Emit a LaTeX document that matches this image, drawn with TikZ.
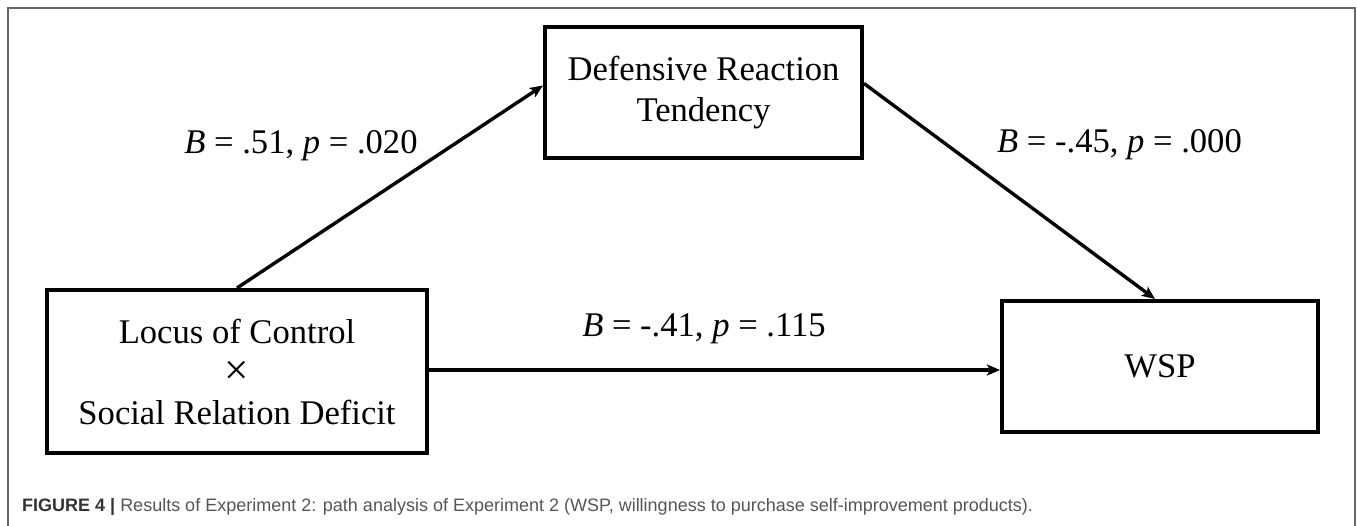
\documentclass[tikz,border=0pt]{standalone}
\usepackage{graphicx}
\usepackage{fontspec}
\setmainfont{Liberation Serif}
\newfontfamily\capfont{Liberation Sans}
\usetikzlibrary{arrows.meta}
\definecolor{framegray}{HTML}{666666}
\definecolor{capgray}{HTML}{555555}
\definecolor{capdark}{HTML}{333333}
\begin{document}
\begin{tikzpicture}[x=1pt,y=1pt,
  box/.style={draw, line width=4pt, align=center, inner sep=0pt,
              font=\fontsize{34.6}{40.5}\selectfont},
  conn/.style={line width=3.4pt, -{Stealth[length=13pt,width=11pt,inset=3pt]}},
  lbl/.style={anchor=base, inner sep=0pt, font=\fontsize{34.6}{40}\selectfont}]
\useasboundingbox (0,0) rectangle (1357,525);
\draw[framegray, line width=1.5pt] (8,-5) -- (8,517) -- (1355,517) -- (1355,-5);

\node[box, minimum width=317pt, minimum height=131pt] (T) at (703.5,432.5)
  {Defensive Reaction\\Tendency};
\node[box, minimum width=380pt, minimum height=163pt] (L) at (237,153.5)
  {Locus of Control\\\raisebox{-1pt}{\scalebox{1.25}{×}}\\Social Relation Deficit};
\node[box, minimum width=316pt, minimum height=131pt] (W) at (1160,158.5) {WSP};

\draw[conn] (L.north) -- ([yshift=7pt]T.west);
\draw[conn] ([yshift=9pt]T.east) -- ([xshift=-5pt]W.north);
\draw[conn] ([yshift=1.5pt]L.east) -- ([yshift=1.5pt]L.east -| W.west);

\node[lbl] (l1) at (301,371) {\textit{B} = .51, \textit{p} = .020};
\node[lbl] (l2) at (1119.5,372) {\textit{B} = -.45, \textit{p} = .000};
\node[lbl] (l3) at (704,188) {\textit{B} = -.41, \textit{p} = .115};

\node[anchor=base west, inner sep=0pt, font=\capfont\fontsize{18}{22}\selectfont]
  (cap) at (22,14) {\textcolor{capdark}{\textbf{FIGURE 4 |}} \textcolor{capgray}{Results of Experiment 2: path analysis of Experiment 2 (WSP, willingness to purchase self-improvement products).}};
\end{tikzpicture}
\end{document}
